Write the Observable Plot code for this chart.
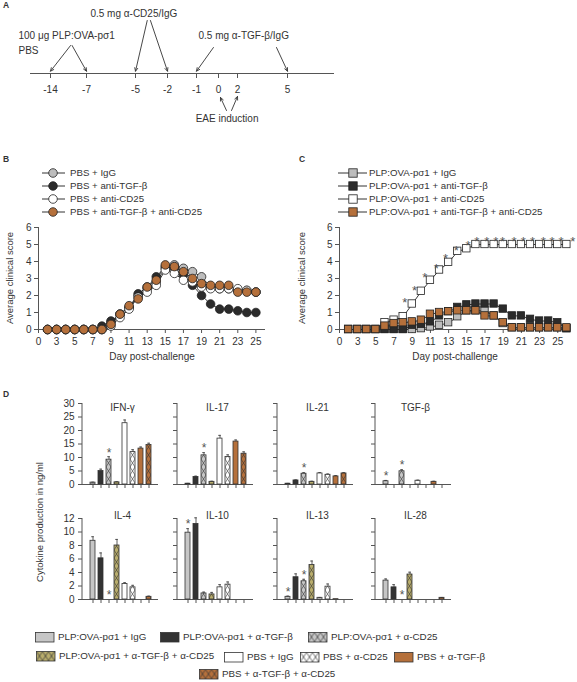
<!DOCTYPE html>
<html>
<head>
<meta charset="utf-8">
<script src="https://cdn.jsdelivr.net/npm/d3@7"></script>
<script src="https://cdn.jsdelivr.net/npm/@observablehq/plot@0.6"></script>
<style>
  html, body { margin: 0; padding: 0; background: #fff; }
  #root { position: relative; width: 577px; height: 682px; overflow: hidden; font-family: "Liberation Sans", Arial, sans-serif; color: #333; }
  .abs { position: absolute; white-space: nowrap; line-height: 1.15; }
</style>
</head>
<body>
<svg width="0" height="0" style="position:absolute"><defs id="pdefs"></defs></svg>
<div id="root"></div>
<script>
// ================= DATA =================
// ---- Panel A (schematic timeline) ----
const timelineDays = [-14, -7, -5, -2, -1, 0, 2, 5];
const timelineTickLabels = ["-14", "-7", "-5", "-2", "-1", "0", "2", "5"];
const timelineSpan = [-18, 8];
const schematicDays = [-18, -14, -7, -5, -2, -1, 0, 2, 5, 8];
const schematicPx = [30, 50, 86, 135, 167, 196, 218, 237, 287, 334];
const annotationText = ["100 μg PLP:OVA-pσ1", "PBS", "0.5 mg α-CD25/IgG", "0.5 mg α-TGF-β/IgG", "EAE induction"];
const annotationDay = [-20.4, -20.4, -6.84, -0.91, -1.03];
const annotationLevel = [38, 23, 60, 38, -45];
const arrowFromDay = [-10.1, -9.8, -3.9, -3.6, -0.23, 4.34, 0.84, 1.37];
const arrowFromLevel = [28, 28, 53, 53, 26, 26, -37, -37];
const arrowToDay = [-14, -7, -5, -2, -1, 5, 0.21, 2.0];
const arrowToLevel = [2.3, 2.3, 2.3, 2.3, 2.3, 2.3, -24, -23];

// ---- Panels B & C shared axis ----
const xTickDays = [1, 3, 5, 7, 9, 11, 13, 15, 17, 19, 21, 23, 25];
const xTickLabels = ["0", "3", "5", "7", "9", "11", "13", "15", "17", "19", "21", "23", "25"];
const yTicksScore = [0, 1, 2, 3, 4, 5, 6];

// ---- Panel B ----
const seriesB = ["PBS + IgG", "PBS + anti-TGF-β", "PBS + anti-CD25", "PBS + anti-TGF-β + anti-CD25"];
const daysB = [2,3,4,5,6,7,8,9,10,11,12,13,14,15,16,17,18,19,20,21,22,23,24,25];
const pbsIgG      = [0,0,0,0,0,0, 0,0.4,0.9,1.3,2.0,2.4,2.8,3.6,3.8,3.6,3.4,3.1,2.5,2.4,2.4,2.3,2.3,2.2];
const pbsTGF      = [0,0,0,0,0,0, 0.2,0.5,0.9,1.3,2.1,2.5,3.1,3.7,3.6,3.2,2.6,2.0,1.5,1.2,1.2,1.1,1.0,1.0];
const pbsCD25     = [0,0,0,0,0,0, 0,0.2,0.7,1.2,1.9,2.2,2.6,3.5,3.3,2.9,2.8,2.5,2.4,2.4,2.4,2.4,2.3,2.2];
const pbsTGFCD25  = [0,0,0,0,0,0, 0,0.3,0.9,1.4,1.8,2.5,2.9,3.8,3.7,3.4,3.0,2.7,2.6,2.6,2.6,2.2,2.2,2.2];

// ---- Panel C ----
const seriesC = ["PLP:OVA-pσ1 + IgG", "PLP:OVA-pσ1 + anti-TGF-β", "PLP:OVA-pσ1 + anti-CD25", "PLP:OVA-pσ1 + anti-TGF-β + anti-CD25"];
const daysC = [2,3,4,5,6,7,8,9,10,11,12,13,14,15,16,17,18,19,20,21,22,23,24,25,26];
const plpIgG     = [0,0,0,0,0,0,0,0,0.05,0.15,0.25,0.4,0.75,1.1,1.1,1.1,0.8,0.35,0.1,0.1,0.1,0.1,0.1,0.1,0.05];
const plpTGF     = [0,0,0,0,0,0,0,0.25,0.3,0.45,0.8,1.05,1.3,1.45,1.5,1.5,1.5,1.2,0.8,0.8,0.6,0.5,0.5,0.4,0.05];
const plpCD25    = [0,0,0,0,0.4,0.55,0.75,1.5,2.25,2.9,3.5,3.95,4.6,4.75,5,5,5,5,5,5,5,5,5,5,5];
const plpTGFCD25 = [0,0,0,0,0.2,0.35,0.4,0.45,0.55,0.9,1.0,1.05,1.1,1.1,1.1,0.8,0.8,0.4,0.1,0.1,0.1,0.1,0.1,0.1,0.1];
const starDayC   = [8.17,9.24,10.38,11.64,12.67,13.85,15.13,16.09,17.2,18.19,18.93,20.2,21.2,22.23,23.4,24.37,25.36,26.65];
const starScoreC = [1.8,2.49,3.27,3.77,4.36,4.85,5.15,5.35,5.35,5.35,5.35,5.35,5.35,5.35,5.35,5.35,5.35,5.35];

// ---- Panel D ----
const groupsD = ["PLP:OVA-pσ1 + IgG", "PLP:OVA-pσ1 + α-TGF-β", "PLP:OVA-pσ1 + α-CD25", "PLP:OVA-pσ1 + α-TGF-β + α-CD25",
                 "PBS + IgG", "PBS + α-CD25", "PBS + α-TGF-β", "PBS + α-TGF-β + α-CD25"];
const cytokinesRow1 = ["IFN-γ", "IL-17", "IL-21", "TGF-β"];
const cytokinesRow2 = ["IL-4", "IL-10", "IL-13", "IL-28"];
const yTicksRow1 = [0, 5, 10, 15, 20, 25, 30];
const yTicksRow2 = [0, 2, 4, 6, 8, 10, 12];
const ifng   = [0.7, 5.0, 9.2, 0.8, 22.7, 12.0, 13.3, 14.6];
const ifngE  = [0.15, 0.7, 1.1, 0.2, 1.2, 0.9, 0.6, 0.7];
const il17   = [0.3, 2.8, 10.8, 1.0, 17.0, 10.2, 15.9, 11.4];
const il17E  = [0.1, 0.3, 1.0, 0.2, 1.2, 0.8, 0.6, 0.7];
const il21   = [0.3, 1.5, 4.0, 1.0, 4.1, 3.6, 3.0, 4.1];
const il21E  = [0.1, 0.2, 0.4, 0.2, 0.3, 0.3, 0.3, 0.3];
const tgfb   = [1.2, 0, 4.9, 0, 1.4, 0, 1.0, 0];
const tgfbE  = [0.3, 0, 0.6, 0, 0.2, 0, 0.2, 0];
const il4    = [8.7, 6.1, 0, 8.0, 2.3, 1.8, 0, 0.4];
const il4E   = [0.6, 0.8, 0, 0.9, 0.2, 0.3, 0, 0.1];
const il10   = [9.9, 11.2, 0.9, 0.75, 1.8, 2.2, 0, 0];
const il10E  = [0.6, 0.9, 0.2, 0.3, 0.4, 0.4, 0, 0];
const il13   = [0.4, 3.3, 2.7, 5.1, 0.25, 1.9, 0.05, 0];
const il13E  = [0.1, 0.5, 0.3, 0.6, 0.05, 0.4, 0, 0];
const il28   = [2.8, 1.8, 0, 3.7, 0, 0, 0, 0.25];
const il28E  = [0.25, 0.4, 0, 0.35, 0, 0, 0, 0.05];
const starsIfng = [2], starsIl17 = [2], starsIl21 = [2], starsTgfb = [0, 2];
const starsIl4 = [2], starsIl10 = [0], starsIl13 = [0, 2], starsIl28 = [2];

// ================= STYLE =================
const AX = "#555", INK = "#333";
const FONT = "'Liberation Sans', Arial, sans-serif";
const fillsB = ["#bdbdbd", "#2b2b2b", "#ffffff", "#b5703b"];
const fillsD = ["#c6c6c6", "#333333", "url(#hb-gray)", "url(#hb-olive)", "#ffffff", "url(#hb-white)", "#b5703b", "url(#hb-brown)"];
const legendFillsD = ["#c6c6c6", "#333333", "url(#hl-gray)", "url(#hl-olive)", "#ffffff", "url(#hl-white)", "#b5703b", "url(#hl-brown)"];
const hatchBases = [["gray", "#c6c6c6"], ["olive", "#b9ad6c"], ["white", "#ffffff"], ["brown", "#b5703b"]];
const plotStyle = {fontFamily: FONT, fontSize: "10px", color: INK, background: "transparent", overflow: "visible"};
const SQ = 3.7; // half side of square markers (px)

const root = document.getElementById("root");
function addText(txt, x, y, o = {}) {
  const d = document.createElement("div");
  d.className = "abs";
  d.textContent = txt;
  d.style.left = x + "px"; d.style.top = y + "px";
  d.style.fontSize = (o.size || 10) + "px";
  if (o.bold) d.style.fontWeight = "bold";
  const a = o.anchor || "start";
  const tx = a === "middle" ? "-50%" : a === "end" ? "-100%" : "0";
  d.style.transform = `translate(${tx},-50%)` + (o.rotate ? ` rotate(${o.rotate}deg)` : "");
  root.appendChild(d);
  return d;
}
function place(node, x, y) {
  node.style.position = "absolute"; node.style.left = x + "px"; node.style.top = y + "px";
  root.appendChild(node);
}

// ---------- patterns ----------
const defs = d3.select("#pdefs");
hatchBases.forEach(([k, c]) => {
  const p = defs.append("pattern").attr("id", "hb-" + k).attr("patternUnits", "userSpaceOnUse")
    .attr("x", 0).attr("y", 0).attr("width", 8).attr("height", 8);
  p.append("rect").attr("width", 8).attr("height", 8).attr("fill", c);
  p.append("path").attr("d", "M0,0L5,8M5,0L0,8").attr("stroke", INK).attr("stroke-width", 0.6).attr("fill", "none");
  const q = defs.append("pattern").attr("id", "hl-" + k).attr("patternUnits", "userSpaceOnUse")
    .attr("x", 0.5).attr("y", 0.5).attr("width", 6).attr("height", 9);
  q.append("rect").attr("width", 6).attr("height", 9).attr("fill", c);
  q.append("path").attr("d", "M0,0L6,9M6,0L0,9").attr("stroke", INK).attr("stroke-width", 0.7).attr("fill", "none");
});

// ================= PANEL A =================
addText("A", 3, 6, {bold: true, size: 8.5});
const annA = annotationText.map((t, i) => ({text: t, day: annotationDay[i], level: annotationLevel[i]}));
const arrA = arrowFromDay.map((d, i) => ({x1: d, y1: arrowFromLevel[i], x2: arrowToDay[i], y2: arrowToLevel[i]}));
const plotA = Plot.plot({
  width: 345, height: 128, margin: 0, style: plotStyle,
  x: {type: "linear", domain: schematicDays, range: schematicPx, axis: null},
  y: {domain: [-55, 73], range: [128, 0], axis: null},
  marks: [
    Plot.ruleY([0], {x1: timelineSpan[0], x2: timelineSpan[1], stroke: AX, strokeWidth: 1.2}),
    Plot.ruleX(timelineDays, {x: d => d, y1: 0, y2: -5, stroke: AX}),
    Plot.text(timelineDays, {x: d => d, y: -16, text: (d, i) => timelineTickLabels[i], fontSize: 10, fill: INK}),
    Plot.text(annA, {x: "day", y: "level", text: "text", textAnchor: "start", fontSize: 10, fill: INK}),
    Plot.arrow(arrA, {x1: "x1", y1: "y1", x2: "x2", y2: "y2", stroke: INK, strokeWidth: 0.9, headLength: 6, headAngle: 50})
  ]
});
place(plotA, 0, 0);

// ================= PANELS B & C =================
function lineLegend(series, fills, symbol, lineX1, lineX2, markX, textX, rowsY) {
  const svg = d3.create("svg").attr("width", 577).attr("height", 60);
  series.forEach((s, i) => {
    const y = rowsY[i] - 160;
    svg.append("line").attr("x1", lineX1).attr("x2", lineX2).attr("y1", y).attr("y2", y).attr("stroke", INK).attr("stroke-width", 1);
    if (symbol === "circle") svg.append("circle").attr("cx", markX).attr("cy", y).attr("r", 4.3).attr("fill", fills[i]).attr("stroke", "#222").attr("stroke-width", 0.8);
    else svg.append("rect").attr("x", markX - 4.2).attr("y", y - 4.2).attr("width", 8.4).attr("height", 8.4).attr("fill", fills[i]).attr("stroke", "#222").attr("stroke-width", 0.8);
    addText(s, textX, rowsY[i], {size: 9.7});
  });
  return svg.node();
}
const legendRowsY = [173, 186, 199, 212];

function scorePlot(series, days, scoreLists, symbol, xMax, width, marginLeft, marginRight, extra = []) {
  const data = [];
  series.forEach((s, k) => scoreLists[k].forEach((v, i) => data.push({series: s, day: days[i], score: v})));
  return Plot.plot({
    width, height: 147, marginLeft, marginRight, marginTop: 7, marginBottom: 38, style: plotStyle,
    x: {domain: [1, xMax]}, y: {domain: [0, 6]},
    color: {domain: series, range: fillsB},
    marks: [
      Plot.axisX({ticks: xTickDays, tickFormat: d => xTickLabels[xTickDays.indexOf(d)], tickSize: 4, tickPadding: 4, label: null, stroke: AX, fill: INK, fontSize: 10}),
      Plot.axisY({ticks: yTicksScore, tickFormat: d => String(d), tickSize: 4, tickPadding: 3, label: null, stroke: AX, fill: INK, fontSize: 10}),
      Plot.ruleY([0], {stroke: AX}),
      Plot.ruleX([1], {stroke: AX}),
      Plot.line(data, {x: "day", y: "score", z: "series", stroke: "#3a3a3a", strokeWidth: 1}),
      symbol === "square"
        ? Plot.rect(data, {x1: "day", x2: "day", y1: "score", y2: "score", fill: "series", stroke: "#222", strokeWidth: 0.8,
            insetLeft: -SQ, insetRight: -SQ, insetTop: -SQ, insetBottom: -SQ})
        : Plot.dot(data, {x: "day", y: "score", fill: "series", stroke: "#222", strokeWidth: 0.8, r: 4.3}),
      ...extra
    ]
  });
}

// Panel B
addText("B", 3, 160, {bold: true, size: 8.5});
place(lineLegend(seriesB, fillsB, "circle", 42, 65, 53, 70, legendRowsY), 0, 160);
const plotB = scorePlot(seriesB, daysB, [pbsIgG, pbsTGF, pbsCD25, pbsTGFCD25], "circle", 26.06, 285, 38, 20);
place(plotB, 0, 220);
addText("Average clinical score", 10, 278, {anchor: "middle", rotate: -90, size: 9.5});
addText("Day post-challenge", 152, 357, {anchor: "middle", size: 10});

// Panel C
addText("C", 299, 160, {bold: true, size: 8.5});
place(lineLegend(seriesC, fillsB, "square", 338, 367, 353, 369, legendRowsY), 0, 160);
const starsC = starDayC.map((d, i) => ({day: d, score: starScoreC[i]}));
const plotC = scorePlot(seriesC, daysC, [plpIgG, plpTGF, plpCD25, plpTGFCD25], "square", 26.4, 287, 49, 7,
  [Plot.text(starsC, {x: "day", y: "score", text: () => "*", fontSize: 13, dy: 3.5, fill: "#555"})]);
place(plotC, 290, 220);
addText("Average clinical score", 302, 278, {anchor: "middle", rotate: -90, size: 9.5});
addText("Day post-challenge", 455, 357, {anchor: "middle", size: 10});

// ================= PANEL D =================
addText("D", 3, 395, {bold: true, size: 8.5});
function cytokinePlot(name, values, errs, starred, yMax, yTicks, showLabels, titleDy) {
  const rows = groupsD.map((g, i) => ({group: g, value: values[i], err: errs[i], star: starred.includes(i)}));
  const ML = 30, H = 99, MT = 8, MB = 10;
  const plot = Plot.plot({
    width: 108, height: H, marginLeft: ML, marginRight: 2, marginTop: MT, marginBottom: MB, style: plotStyle,
    x: {domain: groupsD, paddingInner: 0.4, paddingOuter: 0.2, insetLeft: 3, insetRight: 3},
    y: {domain: [0, yMax]},
    color: {domain: groupsD, range: fillsD},
    marks: [
      Plot.axisY({ticks: yTicks, tickSize: 4, tickPadding: 4, label: null, stroke: AX, fill: INK, fontSize: 10,
                  tickFormat: showLabels ? (d => String(d)) : (() => "")}),
      Plot.axisX({tickSize: 4, tickFormat: () => "", label: null, stroke: AX}),
      Plot.ruleY([0], {stroke: AX}),
      Plot.barY(rows.filter(d => d.value > 0), {x: "group", y: "value", fill: "group", stroke: INK, strokeWidth: 0.8}),
      Plot.ruleX(rows.filter(d => d.err > 0), {x: "group", y1: "value", y2: d => d.value + d.err, stroke: INK, strokeWidth: 0.8}),
      Plot.tickY(rows.filter(d => d.err > 0), {x: "group", y: d => d.value + d.err, stroke: INK, strokeWidth: 0.8, insetLeft: 1.2, insetRight: 1.2}),
      Plot.text(rows.filter(d => d.star), {x: "group", y: d => d.value + d.err, text: () => "*", dy: -4, fontSize: 12, fill: "#555"}),
      Plot.text([name], {frameAnchor: "top", text: d => d, dx: 2, dy: titleDy, fontSize: 10, fill: INK})
    ]
  });
  const ys = plot.scale("y");
  d3.select(plot).append("line").attr("x1", ML).attr("x2", ML)
    .attr("y1", ys.apply(0)).attr("y2", ys.apply(yMax)).attr("stroke", AX);
  return plot;
}
const colAxisX = [82, 177, 277, 375];
const row1Vals = [[ifng, ifngE, starsIfng], [il17, il17E, starsIl17], [il21, il21E, starsIl21], [tgfb, tgfbE, starsTgfb]];
const row2Vals = [[il4, il4E, starsIl4], [il10, il10E, starsIl10], [il13, il13E, starsIl13], [il28, il28E, starsIl28]];
let patternsSet = false;
function setPatterns(svg) {
  const rects = svg.querySelectorAll('g[aria-label="bar"] rect');
  if (rects.length < 2) return;
  const x0 = +rects[0].getAttribute("x"), x1 = +rects[1].getAttribute("x"), bw = +rects[0].getAttribute("width");
  const step = x1 - x0;
  hatchBases.forEach(([k]) => {
    const p = d3.select("#hb-" + k).attr("x", x0).attr("width", step);
    p.select("rect").attr("width", step);
    p.select("path").attr("d", `M0,0L${bw},8M${bw},0L0,8`);
  });
  patternsSet = true;
}
cytokinesRow1.forEach((c, j) => {
  const [v, e, s] = row1Vals[j];
  const p = cytokinePlot(c, v, e, s, 30, yTicksRow1, j === 0, 0);
  place(p, colAxisX[j] - 30, 395);
  if (!patternsSet) setPatterns(p);
});
cytokinesRow2.forEach((c, j) => {
  const [v, e, s] = row2Vals[j];
  const p = cytokinePlot(c, v, e, s, 12, yTicksRow2, j === 0, -7);
  place(p, colAxisX[j] - 30, 510);
});
addText("Cytokine production in ng/ml", 40, 522, {anchor: "middle", rotate: -90, size: 9.5});

// ---------- legend D ----------
const legendPosD = [[35, 637], [160, 637], [308, 637], [36, 656], [224, 657], [300, 657], [394, 657], [199, 674]];
groupsD.forEach((g, i) => {
  const [x, y] = legendPosD[i];
  const s = d3.create("svg").attr("width", 20).attr("height", 11);
  s.append("rect").attr("x", 0.5).attr("y", 0.5).attr("width", 18.5).attr("height", 9.5)
    .attr("fill", legendFillsD[i]).attr("stroke", INK).attr("stroke-width", 0.8);
  place(s.node(), x, y - 5.5);
  addText(g, x + 23, y, {size: 9.8});
});
</script>
</body>
</html>
